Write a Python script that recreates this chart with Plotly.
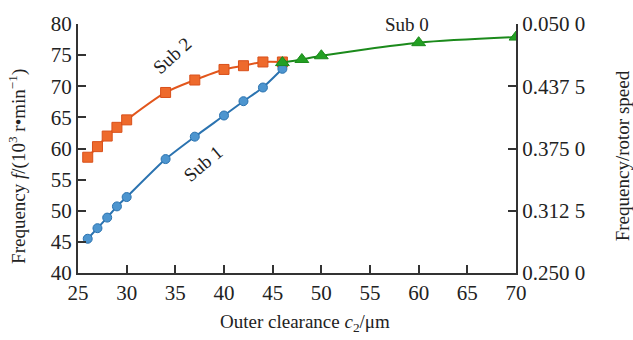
import plotly.graph_objects as go

# Data
sub2_x = [26, 27, 28, 29, 30, 34, 37, 40, 42, 44, 46]
sub2_y = [58.6, 60.3, 62.0, 63.4, 64.6, 69.0, 71.0, 72.7, 73.3, 73.9, 73.9]

sub1_x = [26, 27, 28, 29, 30, 34, 37, 40, 42, 44, 46]
sub1_y = [45.5, 47.2, 48.9, 50.7, 52.2, 58.3, 61.9, 65.3, 67.6, 69.8, 72.8]

sub0_x = [46, 48, 50, 60, 70]
sub0_y = [73.8, 74.3, 74.9, 77.0, 77.9]

x_ticks = [25, 30, 35, 40, 45, 50, 55, 60, 65, 70]
y_ticks = [40, 45, 50, 55, 60, 65, 70, 75, 80]
y2_ticks = [0.25, 0.3125, 0.375, 0.4375, 0.5]
y2_labels = ["0.250 0", "0.312 5", "0.375 0", "0.437 5", "0.050 0"]

FONT = "Liberation Serif"
AXC = "#333333"

fig = go.Figure()
fig.add_trace(go.Scatter(
    x=sub2_x, y=sub2_y, mode="lines+markers", line=dict(color="#E2561C", width=2, shape="spline", smoothing=0.8),
    marker=dict(symbol="square", size=10, color="#EE6A2C", line=dict(color="#D9501A", width=1)),
    showlegend=False))
fig.add_trace(go.Scatter(
    x=sub1_x, y=sub1_y, mode="lines+markers", line=dict(color="#2B73B0", width=2, shape="spline", smoothing=0.6),
    marker=dict(symbol="circle", size=9, color="#4D95CF", line=dict(color="#2B73B0", width=1)),
    showlegend=False))
fig.add_trace(go.Scatter(
    x=sub0_x, y=sub0_y, mode="lines+markers", line=dict(color="#1B8A1B", width=2, shape="spline", smoothing=0.8),
    marker=dict(symbol="triangle-up", size=12, color="#23A023", line=dict(color="#1B8A1B", width=1)),
    showlegend=False))
# invisible trace to activate right axis
fig.add_trace(go.Scatter(x=[None], y=[None], yaxis="y2", showlegend=False, hoverinfo="skip"))

tickfont = dict(size=21, family=FONT, color="#222222")
fig.update_layout(
    width=633, height=340,
    margin=dict(l=78, r=117, t=16, b=67),
    paper_bgcolor="white", plot_bgcolor="white",
    font=dict(family=FONT, size=19, color="#222222"),
    xaxis=dict(range=[25, 70], tickvals=x_ticks, ticks="inside", ticklen=8, tickwidth=1.5,
               tickcolor=AXC, showline=True, linecolor=AXC, linewidth=2, showgrid=False,
               zeroline=False, tickfont=tickfont),
    yaxis=dict(range=[40, 80], tickvals=y_ticks, ticks="inside", ticklen=8, tickwidth=1.5,
               tickcolor=AXC, showline=True, linecolor=AXC, linewidth=2, showgrid=False,
               zeroline=False, tickfont=tickfont),
    yaxis2=dict(range=[0.25, 0.5], overlaying="y", side="right", tickvals=y2_ticks, ticktext=y2_labels,
                ticks="inside", ticklen=8, tickwidth=1.5, tickcolor=AXC, showline=True,
                linecolor=AXC, linewidth=2, showgrid=False, zeroline=False,
                tickfont=tickfont),
    annotations=[
        dict(text="Frequency <i>f</i>/(10<sup>3</sup> r•min<sup>−1</sup>)", xref="paper", yref="paper",
             x=-0.137, y=0.43, xanchor="center", yanchor="middle", textangle=-90, showarrow=False,
             font=dict(size=19, family=FONT)),
        dict(text="Frequency/rotor speed", xref="paper", yref="paper",
             x=1.245, y=0.47, xanchor="center", yanchor="middle", textangle=-90, showarrow=False,
             font=dict(size=19, family=FONT)),
        dict(text="Outer clearance <i>c</i><sub>2</sub>/μm", xref="paper", yref="paper",
             x=0.518, y=-0.20, xanchor="center", yanchor="middle", showarrow=False,
             font=dict(size=19, family=FONT)),
        dict(text="Sub 2", x=34.66, y=75.0, textangle=-42, showarrow=False, font=dict(size=19, family=FONT)),
        dict(text="Sub 1", x=37.85, y=57.6, textangle=-40, showarrow=False, font=dict(size=19, family=FONT)),
        dict(text="Sub 0", x=58.8, y=79.9, showarrow=False, font=dict(size=19, family=FONT)),
    ],
)

fig.write_html("out.html")
